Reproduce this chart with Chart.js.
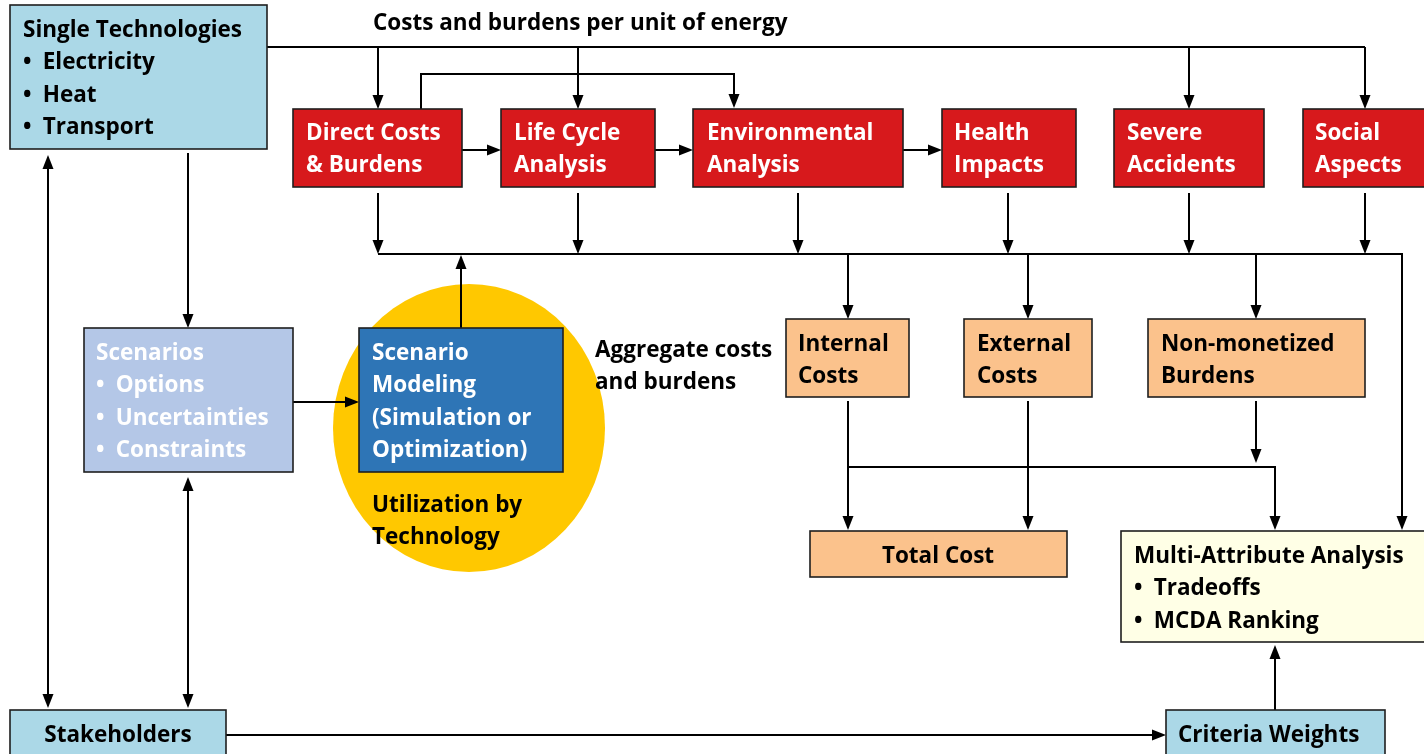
<!DOCTYPE html>
<html lang="en">
<head>
<meta charset="UTF-8">
<title>Energy technology assessment framework</title>
<script src="https://cdn.jsdelivr.net/npm/chart.js"></script>
<style>
  html, body { margin: 0; padding: 0; background: #fff; overflow: hidden; }
  #wrap { width: 1424px; height: 754px; }
</style>
</head>
<body>
<div id="wrap"><canvas id="flow" width="1424" height="754"></canvas></div>
<script>
// --- diagram content (coordinates are in the chart's own x/y units) ---
const B = '\u2022\u2002';
const nodeText = [
  ['Single Technologies', B + 'Electricity', B + 'Heat', B + 'Transport'],
  ['Direct Costs', '& Burdens'],
  ['Life Cycle', 'Analysis'],
  ['Environmental', 'Analysis'],
  ['Health', 'Impacts'],
  ['Severe', 'Accidents'],
  ['Social', 'Aspects'],
  ['Scenarios', B + 'Options', B + 'Uncertainties', B + 'Constraints'],
  ['Scenario', 'Modeling', '(Simulation or', 'Optimization)'],
  ['Internal', 'Costs'],
  ['External', 'Costs'],
  ['Non-monetized', 'Burdens'],
  ['Total Cost'],
  ['Multi-Attribute Analysis', B + 'Tradeoffs', B + 'MCDA Ranking'],
  ['Criteria Weights'],
  ['Stakeholders']
];
const nodeKind = ['tech', 'red', 'red', 'red', 'red', 'red', 'red',
                  'scen', 'model', 'cost', 'cost', 'cost', 'cost', 'mcda', 'tech', 'tech'];
const nodeLeft   = [10, 293, 501, 693, 942, 1114, 1303, 84, 359, 786, 964, 1148, 810, 1121, 1166, 10];
const nodeTop    = [5, 109, 109, 109, 109, 109, 109, 328, 328, 319, 319, 319, 531, 531, 710, 710];
const nodeRight  = [267, 462, 655, 903, 1076, 1264, 1426, 293, 563, 909, 1092, 1365, 1067, 1426, 1385, 226];
const nodeBottom = [149, 187, 187, 187, 187, 187, 187, 472, 472, 397, 397, 397, 577, 642, 760, 760];
const nodeTextX  = [23, 306, 514, 707, 954, 1127, 1315, 96, 372, 798, 977, 1161, 938, 1134, 1178, 118];
const nodeBase   = [37, 140, 140, 140, 140, 140, 140, 360, 360, 351, 351, 351, 563, 563, 742, 742];
const nodeCenter = [false, false, false, false, false, false, false, false, false, false, false, false, true, false, false, true];

const freeText = [
  ['Costs and burdens per unit of energy'],
  ['Aggregate costs', 'and burdens'],
  ['Utilization by', 'Technology']
];
const freeX = [373, 595, 372];
const freeBase = [30, 357, 512];

// yellow disc behind the scenario model
const discCenter = [469, 428];
const discRadius = [136, 144];

// connectors: polyline points, arrowheads at 'end', 'start', 'both' or 'none'
const links = [
  { path: [[267, 47], [1365, 47]], head: 'none' },
  { path: [[378, 47], [378, 109]], head: 'end' },
  { path: [[578, 47], [578, 109]], head: 'end' },
  { path: [[1189, 47], [1189, 109]], head: 'end' },
  { path: [[1365, 47], [1365, 109]], head: 'end' },
  { path: [[421, 109], [421, 74], [734, 74], [734, 108]], head: 'end' },
  { path: [[462, 150], [501, 150]], head: 'end' },
  { path: [[655, 150], [693, 150]], head: 'end' },
  { path: [[903, 150], [942, 150]], head: 'end' },
  { path: [[378, 193], [378, 254]], head: 'end' },
  { path: [[578, 193], [578, 254]], head: 'end' },
  { path: [[798, 193], [798, 254]], head: 'end' },
  { path: [[1008, 193], [1008, 254]], head: 'end' },
  { path: [[1189, 193], [1189, 254]], head: 'end' },
  { path: [[1365, 193], [1365, 254]], head: 'end' },
  { path: [[378, 254], [1402, 254], [1402, 530]], head: 'end' },
  { path: [[461, 328], [461, 255]], head: 'end' },
  { path: [[848, 254], [848, 319]], head: 'end' },
  { path: [[1028, 254], [1028, 319]], head: 'end' },
  { path: [[1256, 254], [1256, 319]], head: 'end' },
  { path: [[188, 153], [188, 328]], head: 'end' },
  { path: [[48, 155], [48, 708]], head: 'both' },
  { path: [[293, 402], [359, 402]], head: 'end' },
  { path: [[188, 477], [188, 708]], head: 'both' },
  { path: [[848, 401], [848, 530]], head: 'end' },
  { path: [[848, 467], [1275, 467], [1275, 530]], head: 'end' },
  { path: [[1028, 401], [1028, 530]], head: 'end' },
  { path: [[1256, 401], [1256, 463]], head: 'end' },
  { path: [[226, 735], [1166, 735]], head: 'end' },
  { path: [[1275, 710], [1275, 645]], head: 'end' }
];

const kindStyle = {
  tech:  { fill: '#abd8e7', text: '#000000' },
  red:   { fill: '#d7191c', text: '#ffffff' },
  scen:  { fill: '#b4c7e7', text: '#ffffff' },
  model: { fill: '#2e75b6', text: '#ffffff' },
  cost:  { fill: '#fbc28c', text: '#000000' },
  mcda:  { fill: '#ffffe6', text: '#000000' }
};
const FONT = 'bold 22.5px "Open Sans", Lato, sans-serif';
const LINE_STEP = 32.4;

const diagramPlugin = {
  id: 'diagram',
  afterDraw(chart) {
    const ctx = chart.ctx;
    const xs = chart.scales.x, ys = chart.scales.y;
    const px = v => xs.getPixelForValue(v);
    const py = v => ys.getPixelForValue(v);
    ctx.save();

    // disc
    ctx.fillStyle = '#ffc800';
    ctx.beginPath();
    ctx.ellipse(px(discCenter[0]), py(discCenter[1]),
      Math.abs(px(discCenter[0] + discRadius[0]) - px(discCenter[0])),
      Math.abs(py(discCenter[1] + discRadius[1]) - py(discCenter[1])), 0, 0, Math.PI * 2);
    ctx.fill();

    // connectors
    ctx.strokeStyle = '#000';
    ctx.fillStyle = '#000';
    ctx.lineWidth = 2;
    const headLen = 14, headHalf = 5.5;
    function head(tip, from) {
      const dx = tip[0] - from[0], dy = tip[1] - from[1];
      const len = Math.hypot(dx, dy) || 1;
      const ux = dx / len, uy = dy / len;
      ctx.beginPath();
      ctx.moveTo(tip[0], tip[1]);
      ctx.lineTo(tip[0] - ux * headLen - uy * headHalf, tip[1] - uy * headLen + ux * headHalf);
      ctx.lineTo(tip[0] - ux * headLen + uy * headHalf, tip[1] - uy * headLen - ux * headHalf);
      ctx.closePath();
      ctx.fill();
    }
    links.forEach(link => {
      const pts = link.path.map(p => [px(p[0]), py(p[1])]);
      const n = pts.length;
      const drawPts = pts.map(p => p.slice());
      const trim = (a, b) => {
        const dx = a[0] - b[0], dy = a[1] - b[1];
        const len = Math.hypot(dx, dy) || 1;
        a[0] -= dx / len * (headLen - 2);
        a[1] -= dy / len * (headLen - 2);
      };
      if (link.head === 'end' || link.head === 'both') trim(drawPts[n - 1], pts[n - 2]);
      if (link.head === 'start' || link.head === 'both') trim(drawPts[0], pts[1]);
      ctx.beginPath();
      ctx.moveTo(drawPts[0][0], drawPts[0][1]);
      for (let i = 1; i < n; i++) ctx.lineTo(drawPts[i][0], drawPts[i][1]);
      ctx.stroke();
      if (link.head === 'end' || link.head === 'both') head(pts[n - 1], pts[n - 2]);
      if (link.head === 'start' || link.head === 'both') head(pts[0], pts[1]);
    });

    // boxes
    ctx.font = FONT;
    ctx.textBaseline = 'alphabetic';
    nodeText.forEach((lines, i) => {
      const st = kindStyle[nodeKind[i]];
      const x0 = px(nodeLeft[i]), x1 = px(nodeRight[i]);
      const y0 = py(nodeTop[i]), y1 = py(nodeBottom[i]);
      ctx.fillStyle = st.fill;
      ctx.fillRect(x0, y0, x1 - x0, y1 - y0);
      ctx.lineWidth = 1.6;
      ctx.strokeStyle = '#1e1e1e';
      ctx.strokeRect(x0, y0, x1 - x0, y1 - y0);
      ctx.fillStyle = st.text;
      ctx.textAlign = nodeCenter[i] ? 'center' : 'left';
      lines.forEach((t, k) => {
        ctx.fillText(t, px(nodeTextX[i]), py(nodeBase[i] + k * LINE_STEP));
      });
    });

    // free labels
    ctx.fillStyle = '#000';
    ctx.textAlign = 'left';
    freeText.forEach((lines, i) => {
      lines.forEach((t, k) => {
        ctx.fillText(t, px(freeX[i]), py(freeBase[i] + k * LINE_STEP));
      });
    });
    ctx.restore();
  }
};

function build() {
  new Chart(document.getElementById('flow'), {
    type: 'scatter',
    data: {
      datasets: [{
        label: 'nodes',
        data: nodeText.map((t, i) => ({
          x: (nodeLeft[i] + nodeRight[i]) / 2,
          y: (nodeTop[i] + nodeBottom[i]) / 2
        })),
        pointRadius: 0
      }]
    },
    options: {
      responsive: false,
      animation: false,
      layout: { padding: 0 },
      plugins: { legend: { display: false }, tooltip: { enabled: false } },
      scales: {
        x: { type: 'linear', min: 0, max: 1424, display: false },
        y: { type: 'linear', min: 0, max: 754, reverse: true, display: false }
      }
    },
    plugins: [diagramPlugin]
  });
}

if (document.fonts && document.fonts.load) {
  document.fonts.load(FONT).then(build, build);
} else {
  build();
}
</script>
</body>
</html>
